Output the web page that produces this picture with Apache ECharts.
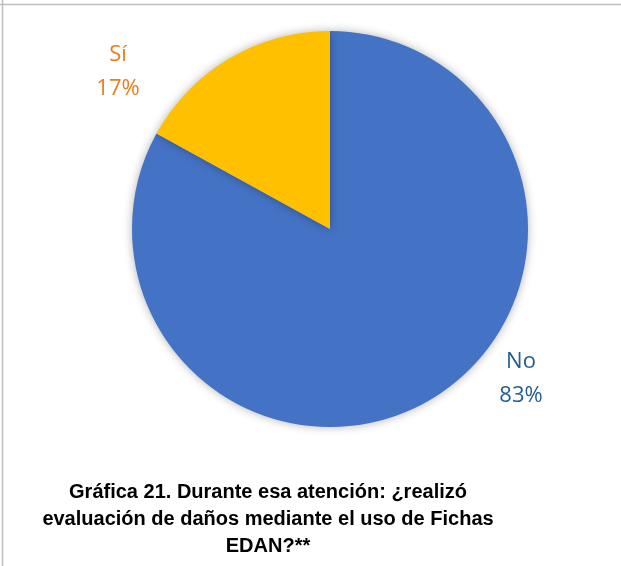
<!DOCTYPE html>
<html>
<head>
<meta charset="utf-8">
<script src="https://cdn.jsdelivr.net/npm/echarts@6/dist/echarts.min.js"></script>
<style>
html,body{margin:0;padding:0;background:#fff;}
#chart{width:621px;height:566px;}
</style>
</head>
<body>
<div id="chart"></div>
<script>
var categories = ['No', 'Sí'];
var values = [83, 17];
var sliceColors = ['#4472C4', '#FFC000'];
var labelColors = ['#255E91', '#EE7B1A'];
var titleLines = ['Gráfica 21. Durante esa atención: ¿realizó', 'evaluación de daños mediante el uso de Fichas', 'EDAN?**'];

var chart = echarts.init(document.getElementById('chart'));
var cx = 330, cy = 229, r = 198;
// label anchor offsets from pie center (layout only)
var labelOffsets = [[191, 150], [-212, -157]];

var data = categories.map(function (c, i) {
  return {
    name: c,
    value: values[i],
    itemStyle: { color: sliceColors[i] },
    label: { color: labelColors[i] }
  };
});

chart.setOption({
  animation: false,
  title: {
    text: titleLines.join('\n'),
    left: 263,
    textAlign: 'center',
    top: 474,
    textStyle: {
      fontFamily: 'Liberation Sans, Arial, sans-serif',
      fontWeight: 'bold',
      fontSize: 20,
      lineHeight: 27,
      color: '#000'
    }
  },
  graphic: [
    { type: 'line', shape: { x1: 0, y1: 4.5, x2: 621, y2: 4.5 }, style: { stroke: '#BFBFBF', lineWidth: 1.5 } },
    { type: 'line', shape: { x1: 2.5, y1: 0, x2: 2.5, y2: 566 }, style: { stroke: '#BFBFBF', lineWidth: 1.5 } }
  ],
  series: [{
    type: 'pie',
    center: [cx, cy],
    radius: r,
    startAngle: 90,
    clockwise: true,
    data: data,
    itemStyle: {
      shadowBlur: 10,
      shadowColor: 'rgba(0,0,0,0.3)'
    },
    label: {
      show: true,
      position: 'outside',
      formatter: function (p) { return p.name + '\n' + Math.round(p.percent) + '%'; },
      fontFamily: 'Open Sans, Lato, sans-serif',
      fontSize: 22,
      lineHeight: 34,
      align: 'center'
    },
    labelLine: { show: false },
    labelLayout: function (p) {
      var o = labelOffsets[p.dataIndex];
      return { x: cx + o[0], y: cy + o[1], align: 'center', verticalAlign: 'middle' };
    }
  }]
});
</script>
</body>
</html>
